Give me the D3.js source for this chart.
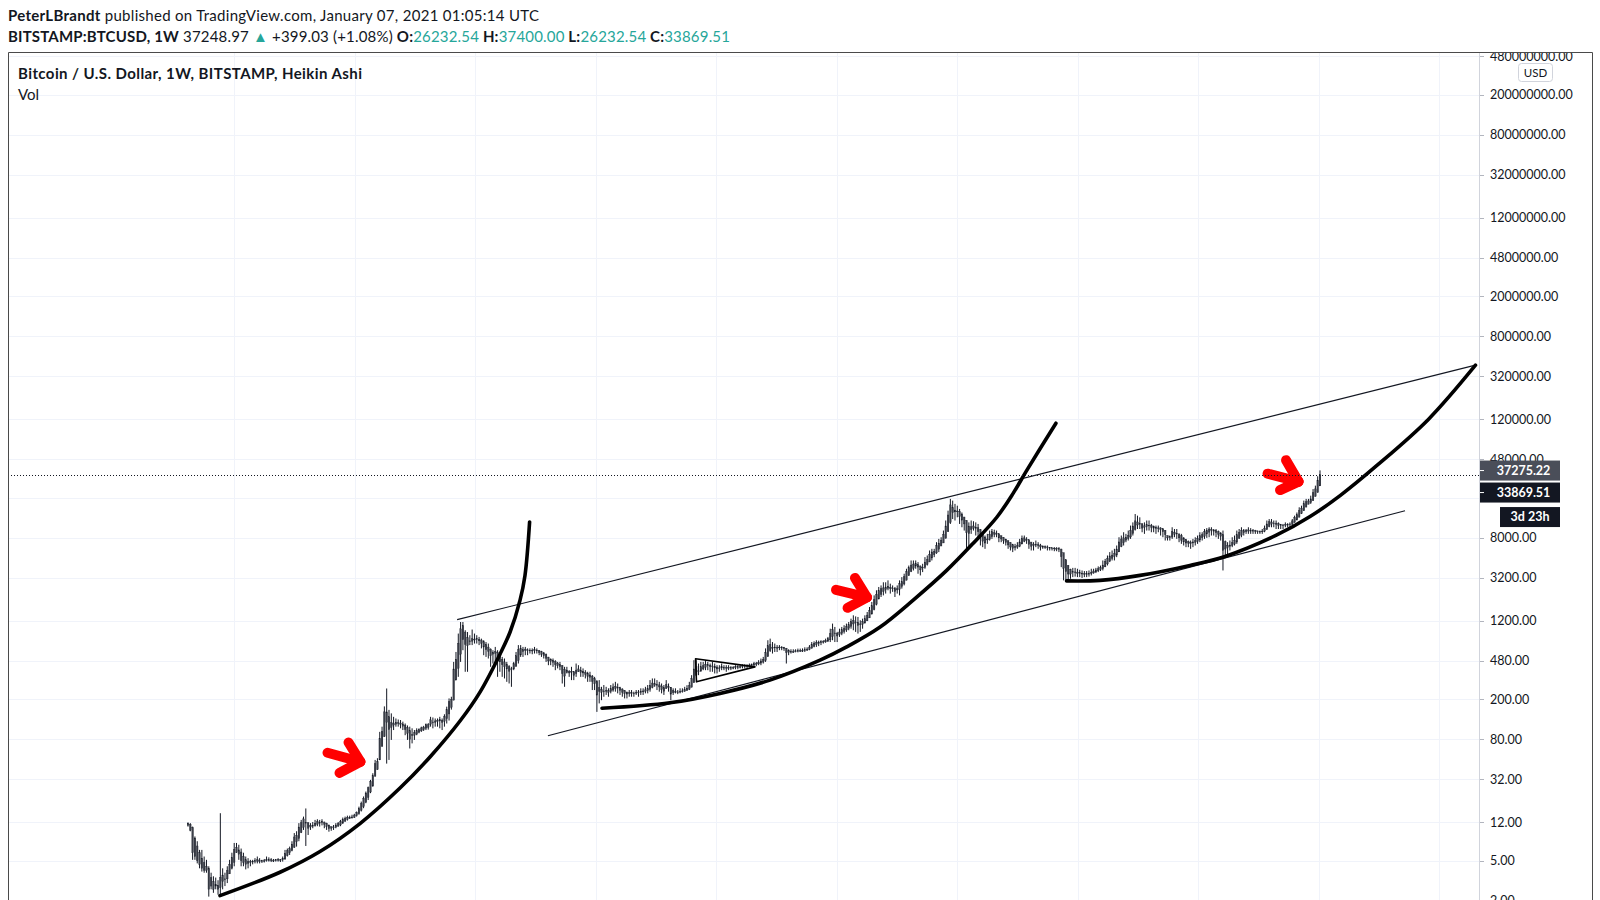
<!DOCTYPE html>
<html><head><meta charset="utf-8">
<script src="https://cdn.jsdelivr.net/npm/d3@7"></script>
<style>html,body{margin:0;padding:0;background:#fff;} svg{display:block;}</style>
</head><body>
<svg id="chart" width="1600" height="900"></svg>
<script>
// Weekly Heikin Ashi candles [open, high, low, close], one array per calendar year
const ha2011 = [[11.8,12,10.9,11.2],[11.5,11.8,9.8,10],[10.7,10.9,5.1,6],[8.4,8.7,5.1,5.5],[7,7.8,4.7,5],[6,6.4,4.2,4.6],[5.3,6.4,3.9,4.2],[4.8,5.5,3.8,4],[4.4,5.1,3.8,4],[4.2,4.4,2.2,2.6],[3.4,3.8,2.6,2.8],[3.1,3.5,2.4,2.6],[2.9,3.4,2.6,2.8],[2.85,3.2,2.3,2.6],[2.7,14.8,2.3,3.4],[3.1,4.2,2.6,3.6],[3.3,3.8,2.8,3.3],[3.3,4.4,3.0,4.0],[3.7,5.1,3.7,4.6],[4.2,6,4.1,5.4]];
const ha2012 = [[4.8,7.5,4.4,6.5],[6.0,7.5,6.0,6.8],[6.4,7.2,5.1,5.8],[6.1,6.6,4.4,5.0],[5.5,6,4.4,4.8],[5.1,5.5,4.1,4.6],[4.9,5.3,4.2,4.7],[4.8,5.1,4.4,4.9],[4.85,5.1,4.6,4.95],[4.9,5.3,4.7,5.0],[4.95,5.5,4.7,5.1],[5.0,5.3,4.7,5.0],[5.0,5.1,4.75,4.95],[4.98,5.2,4.8,5.0],[5.0,5.5,4.9,5.1],[5.05,5.4,4.9,5.1],[5.1,5.3,4.85,5.0],[5.05,5.2,4.85,5.05],[5.05,5.2,4.9,5.1],[5.1,5.3,4.9,5.15],[5.1,5.2,4.85,5.1],[5.1,5.5,4.9,5.3],[5.2,6.4,5.1,5.9],[5.6,6.6,5.5,6.3],[6.0,6.9,5.7,6.6],[6.3,7.8,6.2,7.3],[6.8,9.4,6.7,8.6],[7.7,9.8,6.9,8.9],[8.3,11.8,7.8,10.8],[9.5,12.7,9.4,11.9],[10.7,13.7,10.1,13.0],[11.9,16.5,7.0,12.0],[11.9,12,9.0,10.5],[11.2,11.8,10.1,10.8],[11.0,12.1,10.5,11.2],[11.1,12.7,10.9,11.8],[11.5,12.9,11.0,12.2],[11.8,12.7,10.9,12.0],[11.9,12.9,11.2,12.3],[12.1,12.2,10.5,11.5],[11.8,11.9,10.1,10.9],[11.3,11.4,9.7,10.4],[10.9,10.9,9.9,10.5],[10.7,11.3,10.1,10.8],[10.75,11.8,10.5,11.3],[11.0,12.1,10.9,11.7],[11.3,12.7,11.0,12.2],[11.8,13.4,11.6,12.9],[12.3,13.7,12.2,13.2],[12.8,14.0,12.5,13.5],[13.1,14.0,13.0,13.5],[13.3,14.3,13.1,13.6],[13.4,14.6,13.3,14.2]];
const ha2013 = [[14.0,15.4,13.7,15.1],[14.6,17.2,14.3,16.5],[15.8,19.3,15.4,18.5],[17.2,21.7,16.6,20.8],[19.0,24.3,18.6,23.5],[21.2,27.2,20.0,26.5],[24,31.7,23.4,30.5],[27.5,36.9,27.2,35],[34.5,50,34.2,46],[40,52,40,48],[50,95,50,82],[68,107,68,96],[85,170,85,150],[118,256,46,150],[134,157,50,100],[117,145,79,105],[111,134,99,115],[113,129,107,118],[115,126,107,117],[116,124.5,103,113],[114,120,99,108],[111,115,88,100],[105,110,79,92],[98,107,65,80],[89,103,73,88],[88,99,79,93],[90,103,88,98],[94,103,92,100],[97,107,95,104],[100,109,97,106],[103,115,99,112],[105,116,100,112],[113,134,107,125],[119,132,103,118],[118,129,107,122],[120,129,107,124],[122,134,103,126],[124,129,99,118],[121,142,107,135],[128,169,115,158],[143,204,123,190],[166,212,158,200],[196,470,196,400],[310,590,310,500],[405,898,334,720],[560,1170,470,1000],[780,1170,614,1080],[930,969,375,700],[815,930,375,680],[750,865,690,760],[755,985,690,800],[778,898,715,790]];
const ha2014 = [[785,865,715,800],[790,832,690,760],[775,800,640,720],[745,771,548,660],[700,740,527,620],[660,715,508,600],[630,640,420,540],[585,614,453,560],[572,662,453,600],[586,614,334,480],[533,548,375,470],[500,527,334,440],[470,508,322,420],[445,470,298,400],[422,436,287,380],[401,420,266,400],[400,470,389,450],[425,590,420,540],[482,690,453,620],[551,690,527,640],[595,662,527,620],[608,662,548,630],[619,640,548,610],[614,640,569,615],[614,640,560,610],[612,662,569,620],[616,640,569,605],[610,614,548,580],[595,605,527,560],[578,590,508,540],[559,569,470,510],[525,527,436,480],[502,508,436,475],[488,508,420,465],[476,489,389,440],[458,470,405,430],[444,470,389,420],[432,436,287,360],[396,420,266,340],[368,420,361,390],[379,389,334,365],[372,420,310,380],[376,376,310,345],[360,453,334,390],[375,436,375,400],[388,420,334,370],[379,405,334,365],[372,389,322,355],[363,375,298,335],[349,375,298,330],[340,348,247,300],[320,334,247,285]];
const ha2015 = [[302,310,150,220],[261,310,182,240],[250,266,196,235],[242,277,212,240],[241,266,221,245],[243,257,212,235],[239,277,229,255],[247,287,238,265],[256,298,238,270],[263,287,229,260],[261,266,221,245],[253,257,212,235],[244,247,204,228],[236,238,204,225],[230,247,212,232],[231,247,212,232],[231,238,212,228],[230,247,221,235],[232,247,212,236],[234,257,221,240],[237,257,221,242],[240,266,229,248],[244,277,229,255],[250,310,238,275],[262,322,257,290],[276,322,266,285],[280,310,247,275],[278,298,238,265],[271,287,229,250],[260,277,221,240],[255,310,255,280],[268,287,238,260],[264,264,196,225],[245,257,221,232],[238,257,229,236],[237,247,225,235],[236,257,229,240],[238,257,233,242],[240,266,238,250],[245,276,242,258],[252,298,247,275],[263,347,263,320],[292,489,292,400],[346,489,346,420],[383,453,347,380],[381,470,375,420],[400,470,389,430],[415,489,389,445],[430,470,389,440],[435,453,375,420],[428,470,375,425],[426,453,361,410]];
const ha2016 = [[418,436,361,400],[409,436,375,410],[410,453,389,420],[415,436,389,415],[415,436,375,410],[412,436,389,415],[413,426,389,412],[412,426,397,415],[413,436,397,420],[416,436,397,420],[418,436,405,422],[420,445,405,428],[424,445,405,430],[427,445,405,432],[429,453,414,438],[433,453,420,442],[437,470,426,450],[443,470,426,455],[449,489,436,465],[457,507,436,480],[468,527,453,500],[484,640,470,580],[532,771,527,680],[606,800,590,700],[653,740,569,650],[651,715,590,660],[655,690,590,655],[655,690,614,660],[657,674,614,650],[653,662,605,635],[644,644,453,580],[612,627,548,585],[598,627,569,590],[594,627,577,595],[594,627,585,605],[600,637,585,608],[604,637,590,610],[607,640,590,612],[610,656,590,620],[615,656,605,630],[622,690,614,660],[641,740,640,700],[670,752,656,720],[695,771,662,735],[715,764,674,740],[727,771,690,745],[736,771,715,750],[743,800,727,770],[756,832,740,800],[778,1004,740,900],[839,1128,771,980],[910,1045,740,900]];
const ha2017 = [[905,933,740,850],[877,1004,832,930],[900,1045,865,980],[940,1087,898,1010],[975,1128,933,1050],[1012,1170,969,1100],[1056,1263,1004,1180],[1118,1363,969,1220],[1169,1330,933,1150],[1160,1313,898,1080],[1120,1217,933,1100],[1110,1263,1004,1180],[1145,1363,1128,1260],[1200,1470,1200,1370],[1285,1650,1285,1520],[1400,1850,1400,1700],[1550,2150,1528,1950],[1750,2415,1710,2200],[1975,2605,1975,2400],[2190,2700,2072,2500],[2345,2900,2150,2550],[2450,2900,2240,2600],[2525,3030,2415,2650],[2590,2810,2240,2500],[2545,2700,2330,2500],[2520,2605,2072,2350],[2435,2700,2240,2500],[2470,3030,2150,2800],[2635,3265,2510,2950],[2790,3527,2700,3300],[3045,3950,3030,3700],[3370,4250,3370,4050],[3710,4775,3660,4300],[4000,4775,3800,4400],[4200,4775,3950,4450],[4320,4600,3527,4100],[4210,4250,3390,3850],[4030,4425,3660,4100],[4065,5150,3950,4600],[4330,5350,4250,4900],[4615,6000,4600,5500],[5060,6230,4775,5800],[5430,6230,5150,5900],[5665,7250,5560,6700],[6180,7820,5780,7100],[6640,8120,6640,7600],[7120,9460,7120,8700],[7910,11900,7910,10500],[9200,14900,9200,13500],[11350,19500,11000,17000],[14200,18750,12300,16000],[15100,17400,11900,14500]];
const ha2018 = [[14800,16700,12800,14500],[14650,15500,11000,13000],[13800,14300,10200,12000],[12900,12900,9460,11000],[11950,11950,6000,9000],[10480,11400,6470,8800],[9640,11900,8770,10300],[9970,11700,9460,10500],[10235,11400,8440,9900],[10070,11000,7820,9200],[9635,9800,6720,8200],[8920,8920,6470,7400],[8160,8440,6230,7100],[7630,8770,6980,7800],[7715,9460,7530,8700],[8210,9800,7820,9200],[8700,9650,8120,9000],[8850,9460,8120,8700],[8775,8775,7250,8000],[8390,8440,7250,7800],[8095,8120,6980,7500],[7800,7820,6720,7200],[7500,7530,6230,6800],[7150,7250,6000,6500],[6825,6980,5780,6300],[6560,6980,6000,6400],[6480,7250,6230,6700],[6590,7820,6470,7300],[6945,8440,6945,7900],[7420,8440,7250,8000],[7710,8120,6980,7600],[7655,7655,6230,6900],[7280,7280,6000,6600],[6940,7250,6000,6700],[6820,7530,6470,6900],[6860,7250,6230,6700],[6780,6980,6000,6500],[6640,6720,6230,6450],[6545,6720,6230,6450],[6500,6720,6000,6400],[6450,6450,6000,6300],[6375,6375,6000,6300],[6340,6470,5900,6250],[6295,6470,5900,6200],[6250,6470,5780,6150],[6200,6230,4100,5200],[5700,5700,3030,4000],[4850,4850,2920,3700],[4275,4275,3030,3500],[3890,3950,3140,3500],[3700,4030,3265,3650],[3675,4030,3300,3650],[3660,3950,3265,3550]];
const ha2019 = [[3605,3860,3265,3550],[3580,3800,3200,3500],[3540,3750,3265,3500],[3520,3750,3265,3480],[3500,3800,3300,3550],[3525,3950,3390,3650],[3590,3950,3527,3750],[3670,4030,3580,3850],[3760,4170,3660,3950],[3855,4250,3750,4050],[3950,4775,3800,4300],[4125,4950,4100,4700],[4410,5350,4260,5000],[4700,5780,4600,5300],[5000,6000,4775,5400],[5200,6230,4775,5600],[5400,6720,5150,6200],[5800,8120,5800,7300],[6550,8440,6470,7800],[7175,9100,6720,8000],[7590,8770,7250,8100],[7845,9460,7530,8500],[8170,10600,7820,9500],[8835,11400,8440,10500],[9670,13800,9460,11800],[10735,13300,9800,11500],[11120,12800,9800,11000],[11060,11060,9100,10000],[10530,11400,8770,10200],[10365,11900,9460,10800],[10580,11900,9460,10700],[10640,11000,9100,10200],[10420,10600,9100,10000],[10210,10600,8770,9900],[10055,10600,9100,10000],[10030,10200,8440,9700],[9865,9865,8120,9200],[9530,9530,7530,8600],[8440,8440,7530,8000],[8200,8440,7530,8100],[8150,10200,7820,9300],[8700,9800,8120,9100],[8900,9800,7820,8900],[8770,8770,7250,8000],[8400,8770,6980,7600],[8000,8120,6720,7300],[7650,7820,6470,7100],[7375,7530,6470,7100],[7240,7530,6230,7000],[7120,7820,6470,7300],[7210,8120,6720,7500],[7355,8440,6980,7900]];
const ha2020 = [[7630,9100,7250,8400],[8015,9100,7530,8600],[8300,9800,7820,9200],[8750,10000,8000,9500],[9125,10200,8120,9800],[9460,10200,8440,9700],[9580,9800,8440,9300],[9440,9800,8120,9000],[9220,9460,7820,8700],[8960,9100,7530,8300],[8630,9460,3800,6000],[7315,7530,5150,6200],[6760,7250,5350,6400],[6580,7530,6000,6800],[6690,8120,6470,7200],[6945,8440,6720,7600],[7270,9460,6980,8600],[7935,9800,7820,9100],[8520,10200,8120,9500],[9010,9800,8440,9400],[9205,9800,8770,9500],[9350,10200,8770,9600],[9475,10000,8770,9500],[9490,9800,8770,9400],[9445,9600,8770,9300],[9370,9460,8770,9200],[9285,9460,8770,9250],[9270,9800,8770,9350],[9310,10600,9100,10000],[9655,11900,9655,11000],[10330,12300,10200,11600],[10965,12300,10200,11500],[11230,11900,10200,11200],[11215,11900,9800,10900],[11060,11400,9800,10700],[10880,11000,9800,10600],[10740,11000,9800,10650],[10695,11400,10200,10900],[10800,11200,10200,10900],[10850,11400,10300,11000],[10925,12300,10600,11800],[11360,13300,11360,12800],[12080,14300,11900,13600],[12840,16100,12800,15000],[13920,16700,13800,15800],[14860,18750,14860,17500],[16180,19500,16100,18300],[17240,19500,17240,18600],[17920,21000,17400,19500],[18710,24400,18710,22500],[20600,26400,20600,24500],[22550,32700,22550,29915]];
const ha2021 = [[26232.54,37400,26232.54,33869.51]];

const candleYears = [ha2011, ha2012, ha2013, ha2014, ha2015, ha2016, ha2017, ha2018, ha2019, ha2020, ha2021];
const yearFirstWeek = ["2011-08-15","2012-01-02","2013-01-07","2014-01-06","2015-01-05","2016-01-04","2017-01-02","2018-01-01","2019-01-07","2020-01-06","2021-01-04"];

const priceTicks = [2,5,12,32,80,200,480,1200,3200,8000,20000,48000,120000,320000,800000,2000000,4800000,12000000,32000000,80000000,200000000,480000000];
const gridYears = [2012,2013,2014,2015,2016,2017,2018,2019,2020,2021,2022];

// Drawn annotations: [weeks since 2011-08-15, price]
const channelUpper = [[116.5,1233],[557.3,414000]];
const channelLower = [[155.8,87],[526.8,14860]];
const arc1 = [[13.85,2.25],[39.82,3.84],[57.14,6.17],[74.45,11.68],[91.77,26.3],[104.75,53.5],[117.74,121.7],[126.4,235.7],[135.05,560.5],[139.38,925.4],[143.71,1920],[145.87,3394],[147.87,11520]];
const arc2 = [[179.2,162.9],[208.6,184.6],[230.3,228.8],[251.9,310],[273.6,489],[285.1,662],[299.6,1044],[313.8,1920],[328.4,3804],[339.8,7039],[350.1,12820],[357.1,22010],[363.0,37180],[375.7,110000]];
const arc3 = [[380.3,2994],[394.8,3029],[412.1,3394],[433.7,4263],[448.9,5234],[470.9,8449],[485.7,13030],[498.7,21020],[514.9,42330],[537.0,120600],[557.3,413900]];
const triangle = [[219.7,506],[245.4,419.6],[220.1,298]];
// arrows: [tail, tip, upper wing, lower wing]
const arrows = [
  [[60.4,58.9],[74.6,48.0],[69.5,74.5],[65.6,37.2]],
  [[280.5,2439],[293.9,2055],[288.7,3206],[285.5,1618]],
  [[467.3,34720],[480.7,28940],[475.3,47240],[472.7,23840]]
];
const lastClose = 33869.51;
const lastPrice = 37275.22;

const svg = d3.select("#chart");
const FONT = "Lato, 'Open Sans', sans-serif";
const INK = "#131722";
const TEAL = "#26a69a";

const plotL = 8, plotR = 1479, plotT = 53, plotB = 900, frameR = 1592;
const t0 = Date.UTC(2011,7,15);
const x = d3.scaleUtc().domain([new Date(t0), new Date(Date.UTC(2021,0,4))]).range([188, 1320]);
const y = d3.scaleLog().domain([1, 1e9]).range([931.12, 24.37]);
const wx = w => x(new Date(t0 + w * 7 * 864e5));

svg.append("rect").attr("width",1600).attr("height",900).attr("fill","#fff");

const defs = svg.append("defs");
defs.append("clipPath").attr("id","plotClip").append("rect")
  .attr("x",plotL).attr("y",plotT).attr("width",plotR-plotL).attr("height",plotB-plotT);
defs.append("clipPath").attr("id","axisClip").append("rect")
  .attr("x",plotR).attr("y",plotT).attr("width",frameR-plotR).attr("height",plotB-plotT);

// grid
const grid = svg.append("g").attr("clip-path","url(#plotClip)");
grid.selectAll("line.v").data(gridYears).join("line")
  .attr("x1",d=>Math.round(x(new Date(Date.UTC(d,0,1))))+0.5).attr("x2",d=>Math.round(x(new Date(Date.UTC(d,0,1))))+0.5)
  .attr("y1",plotT).attr("y2",plotB).attr("stroke","#f0f3fa").attr("stroke-width",1);
grid.selectAll("line.h").data(priceTicks).join("line")
  .attr("x1",plotL).attr("x2",plotR).attr("y1",d=>Math.round(y(d))+0.5).attr("y2",d=>Math.round(y(d))+0.5)
  .attr("stroke","#f0f3fa").attr("stroke-width",1);

// candles
const candles = [];
candleYears.forEach((arr, yi) => {
  const start = Date.parse(yearFirstWeek[yi] + "T00:00:00Z");
  arr.forEach((c, k) => candles.push({date: new Date(start + k*7*864e5), o:c[0], h:c[1], l:c[2], c:c[3]}));
});
const cg = svg.append("g").attr("clip-path","url(#plotClip)");
cg.selectAll("line.wick").data(candles).join("line")
  .attr("x1",d=>x(d.date)).attr("x2",d=>x(d.date))
  .attr("y1",d=>y(d.h)).attr("y2",d=>y(d.l))
  .attr("stroke","#131722").attr("stroke-width",1);
cg.selectAll("rect.body").data(candles).join("rect")
  .attr("x",d=>x(d.date)-0.8).attr("width",1.6)
  .attr("y",d=>y(Math.max(d.o,d.c)))
  .attr("height",d=>Math.max(0.8, y(Math.min(d.o,d.c)) - y(Math.max(d.o,d.c))))
  .attr("fill","#3b3e48").attr("stroke","#131722").attr("stroke-width",0.3);

// annotations
const ag = svg.append("g").attr("clip-path","url(#plotClip)");
const ln = d3.line().x(d=>wx(d[0])).y(d=>y(d[1]));
const lnCurve = d3.line().x(d=>wx(d[0])).y(d=>y(d[1])).curve(d3.curveCatmullRom.alpha(0.5));
[channelUpper, channelLower].forEach(p => ag.append("path").attr("d",ln(p)).attr("fill","none").attr("stroke","#131722").attr("stroke-width",1.2));
[arc1, arc2, arc3].forEach(p => ag.append("path").attr("d",lnCurve(p)).attr("fill","none").attr("stroke","#000").attr("stroke-width",3.6).attr("stroke-linecap","round"));
ag.append("path").attr("d", ln(triangle) + "Z").attr("fill","none").attr("stroke","#000").attr("stroke-width",1.6).attr("stroke-linejoin","round");
arrows.forEach(a => {
  const [tail, tip, w1, w2] = a;
  [[tail,tip],[w1,tip],[w2,tip]].forEach(seg => ag.append("path").attr("d", ln(seg))
    .attr("stroke","#ff0000").attr("stroke-width",10).attr("stroke-linecap","round").attr("fill","none"));
});

// last close dotted line
ag.append("line").attr("x1",plotL).attr("x2",plotR).attr("y1",Math.round(y(lastClose))+0.5).attr("y2",Math.round(y(lastClose))+0.5)
  .attr("stroke","#131722").attr("stroke-width",1).attr("stroke-dasharray","1,2");

// price axis
const axg = svg.append("g").attr("clip-path","url(#axisClip)");
axg.selectAll("line.tk").data(priceTicks).join("line")
  .attr("x1",plotR).attr("x2",plotR+5).attr("y1",d=>Math.round(y(d))+0.5).attr("y2",d=>Math.round(y(d))+0.5)
  .attr("stroke","#b2b5be").attr("stroke-width",1);
axg.selectAll("text.tl").data(priceTicks).join("text")
  .attr("x",plotR+11).attr("y",d=>y(d)).attr("dy","0.35em")
  .attr("font-family",FONT).attr("font-size",12.5).attr("fill",INK)
  .text(d=>d3.format(".2f")(d));

// USD badge
svg.append("rect").attr("x",1518.5).attr("y",63.5).attr("width",34).attr("height",18).attr("rx",3)
  .attr("fill","#fff").attr("stroke","#d1d4dc");
svg.append("text").attr("x",1535.5).attr("y",73).attr("dy","0.35em").attr("text-anchor","middle")
  .attr("font-family",FONT).attr("font-size",11.5).attr("fill",INK).text("USD");

// price labels
function priceTag(yc, x0, x1, bg, txt, tick) {
  svg.append("rect").attr("x",x0).attr("y",yc-10).attr("width",x1-x0).attr("height",20).attr("fill",bg);
  if (tick) svg.append("line").attr("x1",x0).attr("x2",x0+5).attr("y1",yc).attr("y2",yc).attr("stroke","#fff");
  svg.append("text").attr("x",(x0+x1)/2 + (tick?4:0)).attr("y",yc).attr("dy","0.35em").attr("text-anchor","middle")
    .attr("font-family",FONT).attr("font-size",12.5).attr("font-weight",700).attr("fill","#fff").text(txt);
}
const yTag = y(lastPrice);
priceTag(yTag, plotR, 1560, "#4a4e59", d3.format(".2f")(lastPrice), true);
priceTag(yTag + 22, plotR, 1560, "#131722", d3.format(".2f")(lastClose), true);
priceTag(yTag + 46.5, 1500, 1560, "#131722", "3d 23h", false);

// frame
svg.append("line").attr("x1",plotR+0.5).attr("x2",plotR+0.5).attr("y1",plotT).attr("y2",plotB).attr("stroke","#d1d4dc");
svg.append("path").attr("d",`M${plotL+0.5},${plotB} V${plotT-0.5} H${frameR+0.5} V${plotB}`)
  .attr("fill","none").attr("stroke","#4a4a4a").attr("stroke-width",1);

// header (letter-spacing fitted to the reference widths)
function fit(sel, target) {
  const n = sel.text().length;
  const w = sel.node().getComputedTextLength();
  sel.attr("letter-spacing", ((target - w) / (n - 1)).toFixed(3));
}
const h1 = svg.append("text").attr("x",8).attr("y",20.5).attr("font-family",FONT).attr("font-size",15).attr("fill",INK);
h1.append("tspan").attr("font-weight",700).text("PeterLBrandt");
h1.append("tspan").text(" published on TradingView.com, January 07, 2021 01:05:14 UTC");
fit(h1, 531);
const h2 = svg.append("text").attr("x",8).attr("y",41.5).attr("font-family",FONT).attr("font-size",15).attr("fill",INK);
h2.append("tspan").attr("font-weight",700).text("BITSTAMP:BTCUSD, 1W");
h2.append("tspan").text(" 37248.97 ");
h2.append("tspan").attr("fill",TEAL).text("▲");
h2.append("tspan").text(" +399.03 (+1.08%) ");
[["O:","26232.54"],["H:","37400.00"],["L:","26232.54"],["C:","33869.51"]].forEach((p,i)=>{
  h2.append("tspan").attr("font-weight",700).text((i? " ":"") + p[0]);
  h2.append("tspan").attr("fill",TEAL).text(p[1]);
});
fit(h2, 722);
const t1 = svg.append("text").attr("x",18).attr("y",79).attr("font-family",FONT).attr("font-size",15).attr("font-weight",700).attr("fill",INK)
  .text("Bitcoin / U.S. Dollar, 1W, BITSTAMP, Heikin Ashi");
fit(t1, 344);
svg.append("text").attr("x",18).attr("y",100).attr("font-family",FONT).attr("font-size",15).attr("fill",INK).text("Vol");
</script>
</body></html>
